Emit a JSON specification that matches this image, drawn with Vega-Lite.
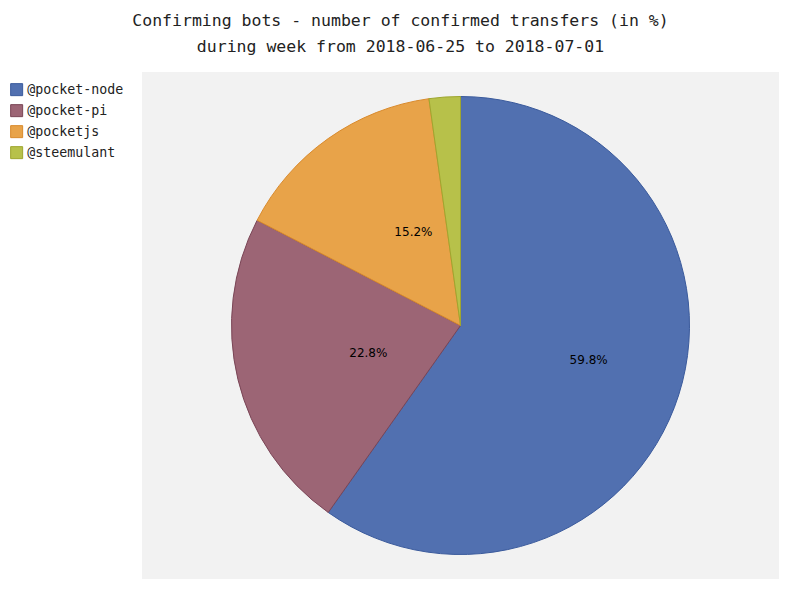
{
  "$schema": "https://vega.github.io/schema/vega-lite/v6.json",
  "autosize": "none",
  "width": 637,
  "height": 507,
  "padding": {"left": 142, "top": 72, "right": 21, "bottom": 21},
  "background": "white",
  "config": {"view": {"fill": "#f2f2f2", "stroke": null}},
  "view": {"fill": "#f2f2f2", "stroke": null},
  "title": {
    "text": ["Confirming bots - number of confirmed transfers (in %)", "during week from 2018-06-25 to 2018-07-01"],
    "font": "DejaVu Sans Mono",
    "fontSize": 16.5,
    "fontWeight": "normal",
    "color": "#222222",
    "anchor": "middle",
    "dx": -60,
    "offset": 17,
    "lineHeight": 26
  },
  "data": {
    "values": [
      {"bot": "@pocket-node", "value": 59.8},
      {"bot": "@pocket-pi", "value": 22.8},
      {"bot": "@pocketjs", "value": 15.2},
      {"bot": "@steemulant", "value": 2.2}
    ]
  },
  "encoding": {
    "theta": {"field": "value", "type": "quantitative", "stack": true},
    "order": {"field": "bot", "type": "nominal", "sort": "ascending"},
    "color": {
      "field": "bot",
      "type": "nominal",
      "scale": {"domain": ["@pocket-node", "@pocket-pi", "@pocketjs", "@steemulant"], "range": ["#5170b0", "#9c6575", "#e8a349", "#b7c14a"]},
      "legend": {
        "title": null,
        "orient": "none",
        "legendX": -132,
        "legendY": 11,
        "symbolType": "square",
        "symbolSize": 144,
        "symbolStrokeWidth": 1,
        "symbolOpacity": 1,
        "labelFont": "DejaVu Sans Mono",
        "labelFontSize": 13.3,
        "labelColor": "#222222",
        "labelOffset": 4,
        "rowPadding": 4
      }
    }
  },
  "layer": [
    {
      "mark": {"type": "arc", "outerRadius": 229, "strokeWidth": 1, "opacity": 1},
      "encoding": {
        "stroke": {
          "field": "bot",
          "type": "nominal",
          "scale": {"domain": ["@pocket-node", "@pocket-pi", "@pocketjs", "@steemulant"], "range": ["#3a5a9c", "#7a4556", "#d98a2c", "#9ea62f"]},
          "legend": null
        }
      }
    },
    {
      "transform": [
        {"calculate": "datum.value > 5 ? format(datum.value, '.1f') + '%' : ''", "as": "label"}
      ],
      "mark": {"type": "text", "radius": 114.5, "align": "left", "baseline": "middle", "font": "DejaVu Sans", "fontSize": 12},
      "encoding": {
        "text": {"field": "label", "type": "nominal"},
        "fill": {"value": "#000000"}
      }
    }
  ]
}
